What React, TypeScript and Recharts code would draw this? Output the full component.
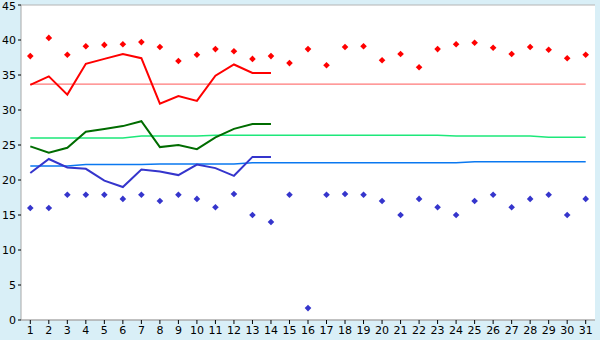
import {
  ComposedChart, Line, XAxis, YAxis, CartesianGrid,
} from 'recharts'

const days = Array.from({ length: 31 }, (_, i) => i + 1)

// daily max / min readings (diamonds)
const maxTemps = [
  37.7, 40.3, 37.9, 39.1, 39.3, 39.4, 39.7, 39.0, 37.0, 37.9,
  38.7, 38.4, 37.3, 37.7, 36.7, 38.7, 36.4, 39.0, 39.1, 37.1,
  38.0, 36.1, 38.7, 39.4, 39.6, 38.9, 38.0, 39.0, 38.6, 37.4, 37.9,
]
const minTemps = [
  16.0, 16.0, 17.9, 17.9, 17.9, 17.3, 17.9, 17.0, 17.9, 17.3,
  16.1, 18.0, 15.0, 14.0, 17.9, 1.7, 17.9, 18.0, 17.9, 17.0,
  15.0, 17.3, 16.1, 15.0, 17.0, 17.9, 16.1, 17.3, 17.9, 15.0, 17.3,
]

// this year's curves (first 14 days)
const highLine = [33.6, 34.8, 32.2, 36.6, 37.3, 38.0, 37.4, 30.9, 32.0, 31.3, 34.9, 36.5, 35.3, 35.3]
const meanLine = [24.8, 23.9, 24.6, 26.9, 27.3, 27.7, 28.4, 24.7, 25.0, 24.4, 26.1, 27.3, 28.0, 28.0]
const lowLine = [21.0, 23.0, 21.8, 21.6, 19.9, 19.0, 21.5, 21.2, 20.7, 22.2, 21.7, 20.6, 23.3, 23.3]

// long-term normals
const highNorm = Array(31).fill(33.7)
const meanNorm = [
  26.0, 26.0, 26.0, 26.0, 26.0, 26.0, 26.3, 26.3, 26.3, 26.3,
  26.4, 26.4, 26.4, 26.4, 26.4, 26.4, 26.4, 26.4, 26.4, 26.4,
  26.4, 26.4, 26.4, 26.3, 26.3, 26.3, 26.3, 26.3, 26.1, 26.1, 26.1,
]
const lowNorm = [
  22.0, 22.0, 22.0, 22.2, 22.2, 22.2, 22.2, 22.3, 22.3, 22.3,
  22.3, 22.3, 22.45, 22.45, 22.45, 22.45, 22.45, 22.45, 22.45, 22.45,
  22.45, 22.45, 22.45, 22.45, 22.6, 22.6, 22.6, 22.6, 22.6, 22.6, 22.6,
]

const yTicks = [0, 5, 10, 15, 20, 25, 30, 35, 40, 45]

const data = days.map((d, i) => ({
  day: d,
  max: maxTemps[i],
  min: minTemps[i],
  high: highLine[i],
  mean: meanLine[i],
  low: lowLine[i],
  highN: highNorm[i],
  meanN: meanNorm[i],
  lowN: lowNorm[i],
}))

const Diamond = (color: string) => (props: any) => {
  const { cx, cy } = props
  if (cx == null || cy == null) return <g />
  const r = 3.3
  return (
    <path
      d={`M${cx},${cy - r}L${cx + r},${cy}L${cx},${cy + r}L${cx - r},${cy}Z`}
      fill={color}
    />
  )
}

const axisGray = '#a8a8a8'
const tickStyle = { fill: '#000', fontSize: 11, fontFamily: 'DejaVu Sans, sans-serif' }

export default function App() {
  return (
    <div style={{ position: 'absolute', left: 0, top: 0, width: 600, height: 340, background: '#d9eff7' }}>
      <ComposedChart width={600} height={340} data={data} margin={{ top: 5, right: 5, bottom: 0, left: 0 }}>
        <CartesianGrid vertical={false} stroke="#b4b4b4" fill="#fff" />
        <XAxis
          dataKey="day"
          scale="point"
          interval={0}
          padding={{ left: 9.3, right: 9.3 }}
          height={20}
          tick={tickStyle}
          tickSize={4}
          stroke={axisGray}
          tickLine={{ stroke: '#000' }}
        />
        <YAxis
          yAxisId="l"
          domain={[0, 45]}
          ticks={yTicks}
          width={21}
          tick={tickStyle}
          tickSize={3}
          stroke={axisGray}
          tickLine={{ stroke: '#000' }}
        />
        <YAxis
          yAxisId="r"
          orientation="right"
          domain={[0, 45]}
          ticks={yTicks}
          width={0}
          tick={false}
          tickLine={false}
          stroke={axisGray}
        />
        <Line yAxisId="l" dataKey="highN" stroke="#ff7878" strokeWidth={1.2} dot={false} isAnimationActive={false} />
        <Line yAxisId="l" dataKey="meanN" stroke="#1de87a" strokeWidth={1.5} dot={false} isAnimationActive={false} />
        <Line yAxisId="l" dataKey="lowN" stroke="#0a78f0" strokeWidth={1.5} dot={false} isAnimationActive={false} />
        <Line yAxisId="l" dataKey="high" stroke="#f00" strokeWidth={2} dot={false} isAnimationActive={false} />
        <Line yAxisId="l" dataKey="mean" stroke="#006c00" strokeWidth={2} dot={false} isAnimationActive={false} />
        <Line yAxisId="l" dataKey="low" stroke="#3535cc" strokeWidth={2} dot={false} isAnimationActive={false} />
        <Line yAxisId="l" dataKey="max" stroke="none" dot={Diamond('#f00')} activeDot={false} isAnimationActive={false} />
        <Line yAxisId="l" dataKey="min" stroke="none" dot={Diamond('#3535cc')} activeDot={false} isAnimationActive={false} />
      </ComposedChart>
    </div>
  )
}
